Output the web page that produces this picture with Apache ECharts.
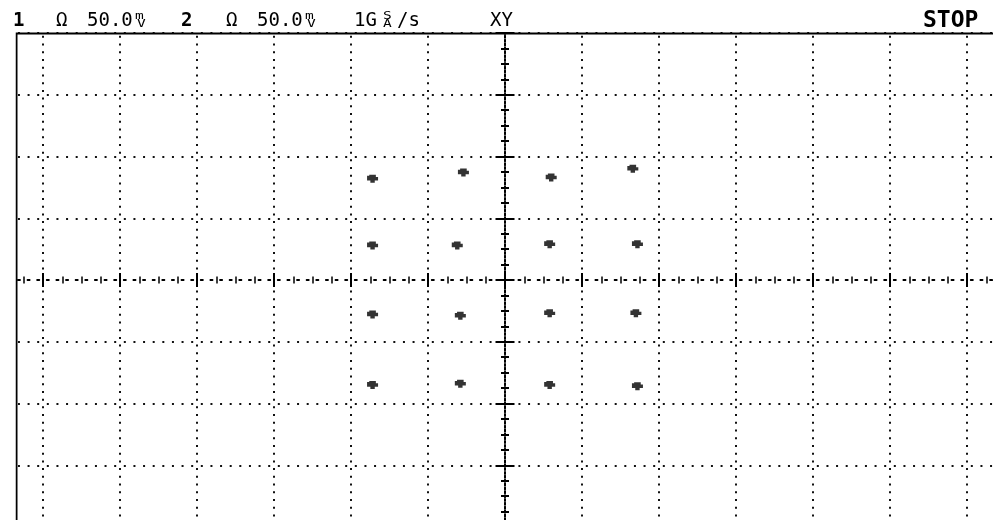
<!DOCTYPE html>
<html><head><meta charset="utf-8">
<script src="https://cdn.jsdelivr.net/npm/echarts@6/dist/echarts.min.js"></script>
<style>html,body{margin:0;padding:0;background:#fff}#c{width:993px;height:520px}</style>
</head><body><div id="c"></div>
<script>
// Constellation points read from the XY display (channel 1 = X, channel 2 = Y), in mV
const ch1X = [-86, -27, 30, 83,  -86, -31, 29, 86,  -86, -29, 29, 85,  -86, -29, 29, 86];
const ch2Y = [ 82,  87, 83, 90,   28,  28, 29, 29,  -28, -29, -27, -27, -85, -84, -85, -86];
const mVPerDiv = 50;
const xMin = -350, xMax = 350;   // 14 divisions across (window shows ~12.7)
const yMin = -200, yMax = 200;   // 8 divisions tall
const minorPerDiv = 4;
const headerCh1 = ['1', 'Ω', '50.0', 'm', 'V'];
const headerCh2 = ['2', 'Ω', '50.0', 'm', 'V'];
const headerRate = ['1G', 'S', 'A', '/s'];
const headerMode = 'XY';
const headerState = 'STOP';

const chart = echarts.init(document.getElementById('c'), null, {renderer: 'canvas'});
const points = ch1X.map((x, i) => [x, ch2Y[i]]);

const hPeriod = 77 / 8, vPeriod = 61.75 / 8;
const MONO = '"DejaVu Sans Mono", monospace';

function txt(text, x, y, size, bold, extra) {
  return Object.assign({
    type: 'text', x: x, y: y, z: 100,
    style: {text: text, font: (bold ? 'bold ' : '') + size + 'px ' + MONO, fill: '#000',
            textAlign: 'left', textVerticalAlign: 'middle'}
  }, extra || {});
}
function small(text, x, y) {
  return txt(text, x, y, 10, false, {scaleX: 1.45, scaleY: 1.0});
}

const option = {
  animation: false,
  backgroundColor: '#fff',
  grid: [
    {left: -34, top: 33, width: 1078, height: 494, containLabel: false, outerBoundsMode: 'none'},
    {left: 16.5, top: 33.5, width: 1100, height: 600, show: true, borderColor: '#000', borderWidth: 2,
     backgroundColor: 'transparent', z: 1, outerBoundsMode: 'none'}
  ],
  xAxis: [
    {gridIndex: 0, type: 'value', min: xMin, max: xMax, interval: mVPerDiv, position: 'bottom',
     axisLine: {show: true, onZero: true, onZeroAxisIndex: 0,
                lineStyle: {color: '#000', width: 2, type: [2, hPeriod - 2], dashOffset: -(hPeriod / 2 - 1)}},
     axisTick: {show: true, length: 7, lineStyle: {color: '#000', width: 2}},
     minorTick: {show: true, splitNumber: minorPerDiv, length: 3.5, lineStyle: {color: '#000', width: 1.5}},
     axisLabel: {show: false},
     splitLine: {show: true, lineStyle: {color: '#111', width: 2, type: [2, vPeriod - 2], dashOffset: -(vPeriod / 2 - 1)}}},
    {gridIndex: 0, type: 'value', min: xMin, max: xMax, interval: mVPerDiv, position: 'bottom',
     axisLine: {show: false, onZero: true, onZeroAxisIndex: 0},
     axisTick: {show: true, inside: true, length: 7, lineStyle: {color: '#000', width: 2}},
     minorTick: {show: true, splitNumber: minorPerDiv, length: 3.5, lineStyle: {color: '#000', width: 1.5}},
     axisLabel: {show: false}, splitLine: {show: false}},
    {gridIndex: 1, type: 'value', min: 0, max: 1, show: false}
  ],
  yAxis: [
    {gridIndex: 0, type: 'value', min: yMin, max: yMax, interval: mVPerDiv, position: 'left',
     axisLine: {show: true, onZero: true, onZeroAxisIndex: 0,
                lineStyle: {color: '#000', width: 2, type: [2, vPeriod / 2 - 2], dashOffset: 1}},
     axisTick: {show: true, length: 9.5, lineStyle: {color: '#000', width: 2}},
     minorTick: {show: true, splitNumber: minorPerDiv, length: 4, lineStyle: {color: '#000', width: 2}},
     axisLabel: {show: false},
     splitLine: {show: true, lineStyle: {color: '#111', width: 2, type: [2, hPeriod - 2], dashOffset: -(hPeriod / 2 - 1)}}},
    {gridIndex: 0, type: 'value', min: yMin, max: yMax, interval: mVPerDiv, position: 'left',
     axisLine: {show: false, onZero: true, onZeroAxisIndex: 0},
     axisTick: {show: true, inside: true, length: 9.5, lineStyle: {color: '#000', width: 2}},
     minorTick: {show: true, splitNumber: minorPerDiv, length: 4, lineStyle: {color: '#000', width: 2}},
     axisLabel: {show: false}, splitLine: {show: false}},
    {gridIndex: 1, type: 'value', min: 0, max: 1, show: false}
  ],
  series: [{
    type: 'scatter', xAxisIndex: 0, yAxisIndex: 0, data: points,
    symbol: 'path://M0,1 L2,1 L2,0 L8,0 L8,2 L10,2 L10,5 L7,5 L7,7 L3,7 L3,5 L0,5 Z',
    symbolSize: [11, 8],
    itemStyle: {color: '#000'},
    z: 10
  }],
  graphic: [
    // blank area left of the screen frame (grid lines stop at the frame)
    {type: 'rect', z: 50, shape: {x: 0, y: 31.5, width: 15.5, height: 490}, style: {fill: '#fff'}},
    txt(headerCh1[0], 13, 21, 19, true),
    txt(headerCh1[1], 56, 21, 19, false),
    txt(headerCh1[2], 87, 21, 19, false),
    small(headerCh1[3], 135, 16),
    small(headerCh1[4], 137, 24),
    txt(headerCh2[0], 181, 21, 19, true),
    txt(headerCh2[1], 226, 21, 19, false),
    txt(headerCh2[2], 257, 21, 19, false),
    small(headerCh2[3], 305, 16),
    small(headerCh2[4], 307, 24),
    txt(headerRate[0], 354, 21, 19, false),
    small(headerRate[1], 383, 16),
    small(headerRate[2], 383, 24),
    txt(headerRate[3], 397, 21, 19, false),
    txt(headerMode, 490, 21, 19, false),
    txt(headerState, 923, 21, 23, true)
  ]
};
chart.setOption(option);
</script>
</body></html>
